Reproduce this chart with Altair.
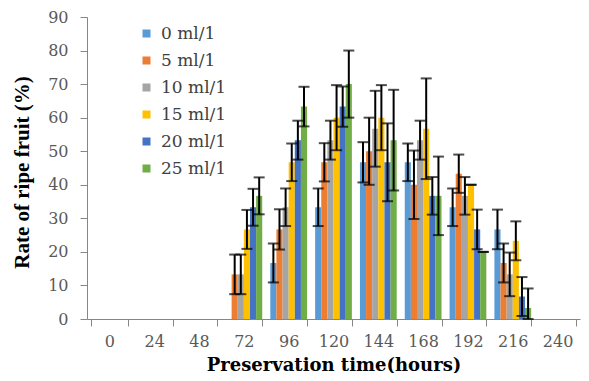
import altair as alt
import pandas as pd

times = ["0", "24", "48", "72", "96", "120", "144", "168", "192", "216", "240"]
series = ["0 ml/1", "5 ml/1", "10 ml/1", "15 ml/1", "20 ml/1", "25 ml/1"]
colors = ["#5B9BD5", "#ED7D31", "#A5A5A5", "#FFC000", "#4472C4", "#70AD47"]

v0 = [0, 0, 0, 0, 16.7, 33.3, 46.7, 46.7, 33.3, 26.7, 0]
v5 = [0, 0, 0, 13.3, 26.7, 46.7, 50.0, 40.0, 43.3, 16.7, 0]
v10 = [0, 0, 0, 13.3, 33.3, 53.3, 56.7, 53.3, 36.7, 13.3, 0]
v15 = [0, 0, 0, 26.7, 46.7, 60.0, 60.0, 56.7, 40.0, 23.3, 0]
v20 = [0, 0, 0, 33.3, 53.3, 63.3, 46.7, 36.7, 26.7, 6.7, 0]
v25 = [0, 0, 0, 36.7, 63.3, 70.0, 53.3, 36.7, 20.0, 3.3, 0]

e0 = [0, 0, 0, 0, 5.8, 5.6, 6.0, 5.6, 5.6, 5.9, 0]
e5 = [0, 0, 0, 5.9, 6.0, 5.7, 10.0, 10.2, 5.7, 5.8, 0]
e10 = [0, 0, 0, 5.9, 5.6, 5.8, 11.3, 5.8, 5.6, 6.5, 0]
e15 = [0, 0, 0, 5.8, 5.6, 9.7, 9.7, 15.0, 0, 5.8, 0]
e20 = [0, 0, 0, 5.5, 5.8, 6.0, 11.6, 5.6, 5.9, 5.8, 0]
e25 = [0, 0, 0, 5.5, 5.9, 10.0, 15.0, 11.7, 0, 5.8, 0]

values = [v0, v5, v10, v15, v20, v25]
errors = [e0, e5, e10, e15, e20, e25]

rows = []
for s, vals, errs in zip(series, values, errors):
    for t, v, e in zip(times, vals, errs):
        rows.append(dict(time=t, conc=s, value=v, lo=max(0.0, v - e), hi=v + e))
df = pd.DataFrame(rows)
df_err = df[df["value"] > 0]

x_axis = alt.Axis(
    title="Preservation time(hours)",
    labelAngle=0,
    tickBand="extent",
    labelFont="DejaVu Serif",
    labelFontSize=16,
    labelColor="#595959",
    labelPadding=7,
    tickSize=7,
    tickColor="#868686",
    domainColor="#868686",
    titleFont="DejaVu Serif",
    titleFontWeight="bold",
    titleFontSize=18,
    titleColor="#000000",
    titleBaseline="alphabetic",
    titleY=51,
)
y_axis = alt.Axis(
    title="Rate of ripe fruit (%)",
    values=list(range(0, 91, 10)),
    grid=False,
    labelFont="DejaVu Serif",
    labelFontSize=16,
    labelColor="#595959",
    labelPadding=12,
    tickSize=7,
    tickColor="#868686",
    domainColor="#868686",
    titleFont="Liberation Serif",
    titleFontWeight="bold",
    titleFontSize=21,
    titleColor="#000000",
    titleAngle=270,
    titleBaseline="middle",
    titleX=-65,
    titleY=155,
)

x_enc = alt.X("time:N", sort=times,
              scale=alt.Scale(paddingInner=0.18, paddingOuter=0.09),
              axis=x_axis)
xo_enc = alt.XOffset("conc:N", sort=series,
                     scale=alt.Scale(paddingInner=0, paddingOuter=0))
y_scale = alt.Scale(domain=[0, 90], nice=False)

bars = alt.Chart(df).mark_bar().encode(
    x=x_enc,
    xOffset=xo_enc,
    y=alt.Y("value:Q", scale=y_scale, axis=y_axis),
    color=alt.Color("conc:N", sort=series,
                    scale=alt.Scale(domain=series, range=colors),
                    legend=alt.Legend(
                        title=None, orient="none", legendX=51, legendY=8,
                        symbolType="square", symbolSize=64, symbolStrokeWidth=0,
                        labelFont="DejaVu Serif", labelFontSize=17,
                        labelColor="#404040", labelOffset=6, rowPadding=9,
                        padding=0)),
)

rules = alt.Chart(df_err).mark_rule(color="black", strokeWidth=2).encode(
    x=x_enc, xOffset=xo_enc,
    y=alt.Y("lo:Q", scale=y_scale, axis=y_axis),
    y2="hi:Q",
)
cap_hi = alt.Chart(df_err).mark_tick(color="black", thickness=2, size=11).encode(
    x=x_enc, xOffset=xo_enc,
    y=alt.Y("hi:Q", scale=y_scale, axis=y_axis),
)
cap_lo = alt.Chart(df_err).mark_tick(color="black", thickness=2, size=11).encode(
    x=x_enc, xOffset=xo_enc,
    y=alt.Y("lo:Q", scale=y_scale, axis=y_axis),
)

chart = alt.layer(bars, rules, cap_hi, cap_lo).properties(
    width=493, height=302,
    padding={"left": 79, "top": 9, "right": 1, "bottom": 54},
    autosize=alt.AutoSizeParams(type="none"),
).configure_view(stroke=None)

chart.save("out.html", embed_options={"renderer": "svg", "actions": False})
